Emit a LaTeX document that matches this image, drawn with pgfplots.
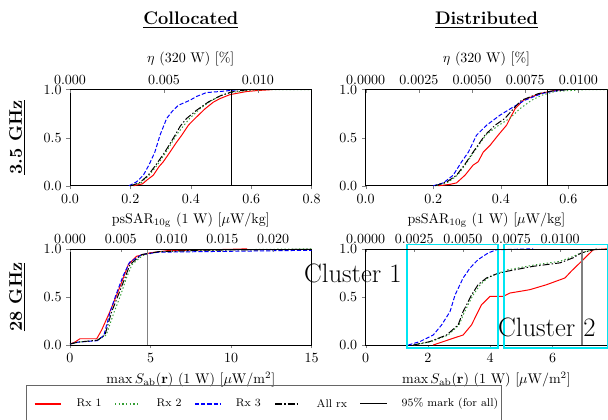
\documentclass[border=0pt]{standalone}
\usepackage{pgfplots}
\pgfplotsset{compat=1.18}
\definecolor{rxred}{rgb}{1,0,0}
\definecolor{rxgreen}{rgb}{0.2,0.62,0.2}
\definecolor{rxblue}{rgb}{0,0,1}
\definecolor{boxcyan}{rgb}{0,0.9,0.95}

\pgfplotsset{
  rx1/.style={color=rxred, solid, line width=0.7pt},
  rx2/.style={color=rxgreen, line width=0.7pt, dash pattern=on 1pt off 1.6pt},
  rx3/.style={color=rxblue, line width=0.7pt, dash pattern=on 3pt off 1.4pt},
  rxall/.style={color=black, line width=0.7pt, dash pattern=on 5pt off 1.5pt on 1pt off 1.5pt},
  panel/.style={
    scale only axis, width=172.6pt, height=68.7pt, anchor=south west,
    ymin=0, ymax=1, ytick={0,0.5,1}, yticklabels={$0.0$,$0.5$,$1.0$},
    xtick pos=left, ytick pos=left, tick align=outside,
    major tick length=2.5pt, clip=false,
  },
  toppanel/.style={
    scale only axis, width=172.6pt, height=68.7pt, anchor=south west,
    ymin=0, ymax=1, axis x line*=top, axis y line=none,
    scaled x ticks=false,
    tick align=inside, major tick length=2.5pt,
  },
}

\begin{document}
\begin{tikzpicture}

% ---------- 3.5 GHz, collocated ----------
\begin{axis}[panel, at={(50pt,166.6pt)}, xmin=0, xmax=0.8,
  xtick={0,0.2,0.4,0.6,0.8}, xticklabels={$0.0$,$0.2$,$0.4$,$0.6$,$0.8$},
  xlabel={psSAR$_{\mathrm{10g}}$ (1 W) [$\mu$W/kg]}]
\addplot[rx1] coordinates {(0.21,0) (0.24,0.02) (0.255,0.06) (0.276,0.11) (0.295,0.2) (0.309,0.25) (0.331,0.35) (0.35,0.44) (0.364,0.5) (0.37,0.526) (0.392,0.63) (0.414,0.70) (0.447,0.80) (0.475,0.87) (0.497,0.907) (0.53,0.948) (0.585,0.98) (0.62,0.99) (0.67,1.0)};
\addplot[rx2] coordinates {(0.2,0) (0.235,0.03) (0.262,0.11) (0.29,0.22) (0.318,0.35) (0.352,0.526) (0.375,0.62) (0.396,0.70) (0.43,0.80) (0.465,0.88) (0.5,0.94) (0.535,0.97) (0.6,0.995) (0.65,1.0) (0.8,1.0)};
\addplot[rx3] coordinates {(0.195,0) (0.22,0.04) (0.243,0.11) (0.262,0.22) (0.281,0.35) (0.298,0.526) (0.32,0.70) (0.34,0.78) (0.359,0.837) (0.397,0.889) (0.42,0.93) (0.452,0.969) (0.497,0.98) (0.56,1.0)};
\addplot[rxall] coordinates {(0.2,0) (0.23,0.03) (0.259,0.11) (0.285,0.22) (0.314,0.35) (0.348,0.526) (0.365,0.62) (0.386,0.70) (0.419,0.785) (0.458,0.871) (0.497,0.934) (0.535,0.976) (0.58,0.995) (0.61,1.0)};
\addplot[black, line width=0.7pt] coordinates {(0.535,0) (0.535,1)};
\end{axis}
\begin{axis}[toppanel, at={(50pt,166.6pt)}, xmin=0, xmax=0.01286,
  xtick={0,0.005,0.01}, xticklabels={$0.000$,$0.005$,$0.010$},
  xlabel={$\eta$ (320 W) [\%]}]
\end{axis}

% ---------- 3.5 GHz, distributed ----------
\begin{axis}[panel, at={(261.2pt,166.6pt)}, xmin=0, xmax=0.715,
  xtick={0,0.2,0.4,0.6}, xticklabels={$0.0$,$0.2$,$0.4$,$0.6$},
  xlabel={psSAR$_{\mathrm{10g}}$ (1 W) [$\mu$W/kg]}]
\addplot[rx1] coordinates {(0.215,0) (0.25,0.015) (0.269,0.03) (0.294,0.11) (0.318,0.215) (0.333,0.25) (0.348,0.35) (0.368,0.42) (0.392,0.526) (0.417,0.63) (0.427,0.70) (0.442,0.80) (0.466,0.889) (0.515,0.958) (0.55,0.985) (0.58,1.0)};
\addplot[rx2] coordinates {(0.21,0) (0.245,0.04) (0.272,0.11) (0.297,0.23) (0.32,0.35) (0.355,0.526) (0.39,0.62) (0.426,0.70) (0.456,0.80) (0.491,0.889) (0.52,0.94) (0.56,0.98) (0.65,1.0) (0.715,1.0)};
\addplot[rx3] coordinates {(0.2,0) (0.23,0.03) (0.259,0.11) (0.284,0.25) (0.304,0.35) (0.328,0.526) (0.358,0.63) (0.397,0.733) (0.437,0.82) (0.471,0.889) (0.52,0.958) (0.55,0.98) (0.59,1.0)};
\addplot[rxall] coordinates {(0.205,0) (0.24,0.04) (0.269,0.11) (0.295,0.23) (0.318,0.35) (0.353,0.526) (0.383,0.63) (0.412,0.70) (0.437,0.80) (0.461,0.889) (0.511,0.958) (0.55,0.985) (0.6,1.0)};
\addplot[black, line width=0.7pt] coordinates {(0.537,0) (0.537,1)};
\end{axis}
\begin{axis}[toppanel, at={(261.2pt,166.6pt)}, xmin=0, xmax=0.01136,
  xtick={0,0.0025,0.005,0.0075,0.01},
  xticklabels={$0.0000$,$0.0025$,$0.0050$,$0.0075$,$0.0100$},
  xlabel={$\eta$ (320 W) [\%]}]
\end{axis}

% ---------- 28 GHz, collocated ----------
\begin{axis}[panel, at={(50pt,52.86pt)}, xmin=0, xmax=15,
  xtick={0,5,10,15},
  xlabel={$\max S_{\mathrm{ab}}(\mathbf{r})$ (1 W) [$\mu$W/m$^2$]}]
\addplot[rx1] coordinates {(0,0.01) (0.3,0.03) (0.62,0.065) (1.66,0.065) (1.97,0.157) (2.48,0.348) (2.9,0.52) (3.31,0.697) (3.62,0.836) (4.14,0.923) (4.97,0.958) (6,0.98) (10,0.995) (11,1.0)};
\addplot[rx2] coordinates {(0,0.01) (0.5,0.03) (1.75,0.05) (2.25,0.104) (2.75,0.348) (3.15,0.52) (3.5,0.697) (3.85,0.836) (4.5,0.93) (5.5,0.97) (10,0.99) (15,1.0)};
\addplot[rx3] coordinates {(0,0.01) (0.5,0.03) (1.7,0.045) (2.1,0.10) (2.5,0.348) (2.85,0.52) (3.3,0.72) (3.7,0.86) (4.45,0.94) (5.5,0.965) (15,0.985)};
\addplot[rxall] coordinates {(0,0.01) (0.5,0.03) (1.7,0.05) (2.17,0.104) (2.59,0.348) (3.0,0.52) (3.41,0.697) (3.72,0.836) (4.45,0.94) (5.5,0.97) (8,0.985) (15,0.995)};
\addplot[gray, line width=1pt] coordinates {(4.82,0) (4.82,1)};
\end{axis}
\begin{axis}[toppanel, at={(50pt,52.86pt)}, xmin=0, xmax=0.02379,
  xtick={0,0.005,0.01,0.015,0.02},
  xticklabels={$0.000$,$0.005$,$0.010$,$0.015$,$0.020$}]
\end{axis}

% ---------- 28 GHz, distributed ----------
\begin{axis}[panel, at={(261.2pt,52.86pt)}, xmin=0, xmax=7.76,
  xtick={0,2,4,6},
  xlabel={$\max S_{\mathrm{ab}}(\mathbf{r})$ (1 W) [$\mu$W/m$^2$]}]
\addplot[rx1] coordinates {(2.17,0) (2.49,0.035) (2.81,0.07) (3.13,0.104) (3.40,0.209) (3.61,0.348) (3.72,0.418) (3.99,0.505) (4.42,0.505) (4.63,0.54) (5.27,0.575) (5.81,0.627) (6.40,0.697) (6.60,0.766) (6.93,0.87) (7.15,0.94) (7.31,0.99) (7.76,1.0)};
\addplot[rx2] coordinates {(1.55,0) (2.1,0.035) (2.65,0.104) (3.0,0.209) (3.18,0.348) (3.45,0.52) (3.68,0.627) (3.92,0.697) (4.25,0.745) (4.53,0.78) (5.38,0.83) (6.24,0.87) (6.66,0.92) (6.93,0.96) (7.3,0.99) (7.45,1.0)};
\addplot[rx3] coordinates {(1.37,0) (1.74,0.035) (2.17,0.104) (2.44,0.209) (2.71,0.348) (2.87,0.52) (3.13,0.697) (3.35,0.80) (3.61,0.888) (3.94,0.958) (4.2,0.99) (5.38,1.0)};
\addplot[rxall] coordinates {(1.53,0) (2.06,0.035) (2.6,0.104) (2.97,0.209) (3.13,0.348) (3.40,0.52) (3.61,0.627) (3.88,0.697) (4.2,0.739) (4.53,0.766) (5.38,0.818) (6.24,0.854) (6.66,0.906) (6.93,0.958) (7.31,0.99) (7.5,1.0)};
\addplot[gray, line width=1pt] coordinates {(6.95,0) (6.95,1)};
\draw[boxcyan, line width=1.4pt] (axis cs:1.34,-0.034) rectangle (axis cs:4.26,1.045);
\draw[boxcyan, line width=1.4pt] (axis cs:4.44,-0.034) rectangle (axis cs:7.79,1.045);
\node[font=\fontsize{19}{21}\selectfont] at (axis cs:-0.41,0.742) {Cluster 1};
\node[font=\fontsize{19}{21}\selectfont] at (axis cs:5.82,0.178) {Cluster 2};
\end{axis}
\begin{axis}[toppanel, at={(261.2pt,52.86pt)}, xmin=0, xmax=0.01243,
  xtick={0,0.0025,0.005,0.0075,0.01},
  xticklabels={$0.0000$,$0.0025$,$0.0050$,$0.0075$,$0.0100$}]
\end{axis}

% ---------- legend (own axis, units = picture pixels) ----------
\begin{axis}[scale only axis, width=339.8pt, height=25.2pt,
  at={(18.6pt,-1.4pt)}, anchor=south west,
  xmin=0, xmax=475.7, ymin=0, ymax=35.3,
  xtick=\empty, ytick=\empty, axis line style={black!60}, clip=false]
\addplot[rx1, line width=1.5pt] coordinates {(8.7,17.2) (35,17.2)};
\addplot[rx2, line width=1.5pt] coordinates {(89,17.2) (114,17.2)};
\addplot[rx3, line width=1.5pt] coordinates {(169,17.2) (194,17.2)};
\addplot[rxall, line width=1.1pt] coordinates {(249,17.2) (274,17.2)};
\addplot[black, line width=1pt] coordinates {(334,17.2) (360.7,17.2)};
\node[anchor=west, font=\footnotesize] at (axis cs:45.7,17.7) {Rx 1};
\node[anchor=west, font=\footnotesize] at (axis cs:125.7,17.7) {Rx 2};
\node[anchor=west, font=\footnotesize] at (axis cs:205,17.7) {Rx 3};
\node[anchor=west, font=\footnotesize] at (axis cs:285.7,17.7) {All rx};
\node[anchor=west, font=\footnotesize] at (axis cs:370.7,17.7) {95\% mark (for all)};
\end{axis}

% ---------- titles ----------
\node[font=\fontsize{13}{15}\selectfont\bfseries] at (136.3pt,285pt) {\underline{Collocated}};
\node[font=\fontsize{13}{15}\selectfont\bfseries] at (347.5pt,285pt) {\underline{Distributed}};
\node[font=\fontsize{13}{15}\selectfont\bfseries, rotate=90] at (12.1pt,201.1pt) {\underline{3.5 GHz}};
\node[font=\fontsize{13}{15}\selectfont\bfseries, rotate=90] at (12.1pt,87.1pt) {\underline{28 GHz}};

\pgfresetboundingbox
\useasboundingbox (0pt,0pt) rectangle (434.3pt,299.3pt);
\end{tikzpicture}
\end{document}
